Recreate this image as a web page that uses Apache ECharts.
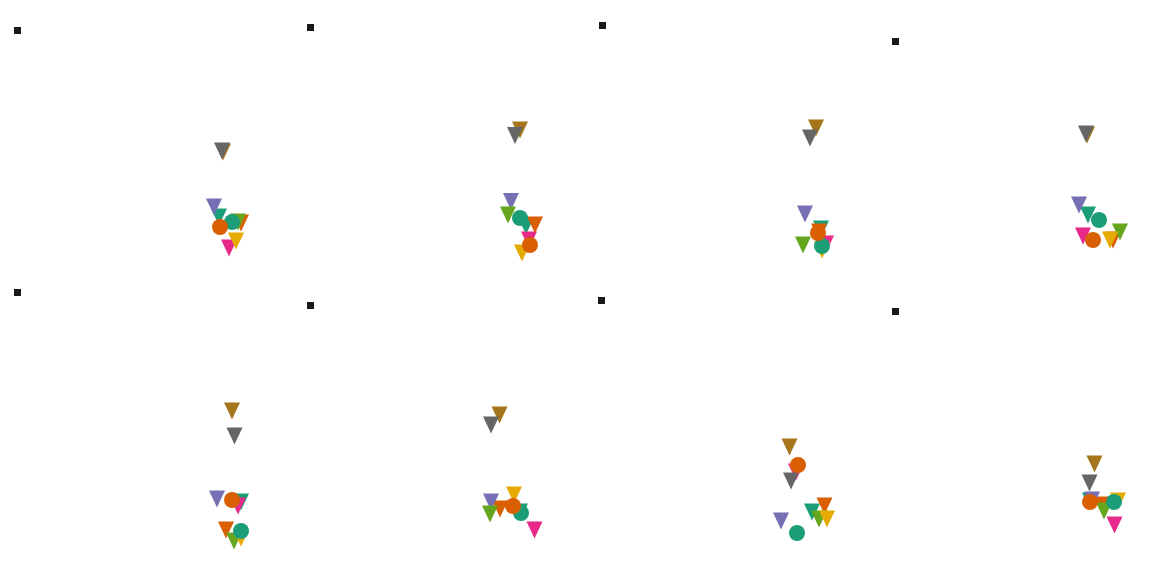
<!DOCTYPE html>
<html><head><meta charset="utf-8">
<script src="https://cdn.jsdelivr.net/npm/echarts@6/dist/echarts.min.js"></script>
<style>html,body{margin:0;padding:0;background:#fff}#c{width:1152px;height:576px}</style>
</head><body><div id="c"></div>
<script>
// one [x, y] pair per panel (8 panels, 2 rows x 4 columns), in panel units
const triTeal   = [[219,217],[238,226],[245,229],[224,215],[241,214],[232,224],[236,224],[226,213]];
const triOrange = [[241,223],[247,225],[243,232],[249,240],[226,242],[212,221],[248.5,218],[239,217]];
const triPurple = [[214,207],[223,201.5],[229,214],[215,205],[217,211],[203,214],[205,233],[228,212]];
const triPink   = [[229,248],[241,240],[250,244],[219,236],[238,218],[246.5,242],[220,184],[250.5,237]];
const triGreen  = [[238,222],[220,215],[227,245],[256,232],[234,253],[202,226],[243,231],[240,223]];
const triYellow = [[236,241],[234,253],[246,250],[246,240],[241,250],[226,207],[251,231],[254,213]];
const triBrown  = [[223,152],[232,130],[240,128],[223,135],[232,123],[211.5,127],[213.5,159],[230.5,176]];
const triGray   = [[222,151],[227,135.5],[234,138],[222,134],[234.5,148],[203,137],[215,193],[225.5,195]];
const dotTeal   = [[232,222],[232,218],[246,246],[235,220],[241,243],[233,225],[221,245],[250,214]];
const dotOrange = [[220,227],[242,245],[242,233],[229,240],[232,212],[225,218],[222,177],[226,214]];
const squares   = [[17.5,30.5],[22.5,27.5],[26.5,25.5],[31.5,41.5],[17.5,4.5],[22.5,17.5],[25.5,12.5],[31.5,23.5]];

const triSeries = [
  [triTeal,'#1B9E77'],[triOrange,'#D95F02'],[triPurple,'#7570B3'],[triPink,'#E7298A'],
  [triGreen,'#66A61E'],[triYellow,'#E6AB02'],[triBrown,'#A6761D'],[triGray,'#666666']
];
const dotSeries = [[dotTeal,'#1B9E77'],[dotOrange,'#D95F02']];

const grids=[], xAxes=[], yAxes=[], series=[];
for (let p=0;p<8;p++){
  const col=p%4, row=Math.floor(p/4);
  grids.push({left:col*288, top:row*288, width:288, height:288});
  xAxes.push({type:'value', gridIndex:p, min:0, max:288, show:false});
  yAxes.push({type:'value', gridIndex:p, min:0, max:288, inverse:true, show:false});
  series.push({type:'scatter', xAxisIndex:p, yAxisIndex:p, data:[squares[p]],
    symbol:'rect', symbolSize:7, itemStyle:{color:'#1a1a1a', opacity:1}, silent:true});
  triSeries.forEach(([arr,c])=>series.push({type:'scatter', xAxisIndex:p, yAxisIndex:p,
    data:[arr[p]], symbol:'triangle', symbolRotate:180, symbolSize:[16,17],
    itemStyle:{color:c, opacity:1}, silent:true}));
  dotSeries.forEach(([arr,c])=>series.push({type:'scatter', xAxisIndex:p, yAxisIndex:p,
    data:[arr[p]], symbol:'circle', symbolSize:16,
    itemStyle:{color:c, opacity:1}, silent:true}));
}
const chart = echarts.init(document.getElementById('c'), null, {renderer:'canvas'});
chart.setOption({animation:false, backgroundColor:'#fff', grid:grids, xAxis:xAxes, yAxis:yAxes, series:series});
</script></body></html>
